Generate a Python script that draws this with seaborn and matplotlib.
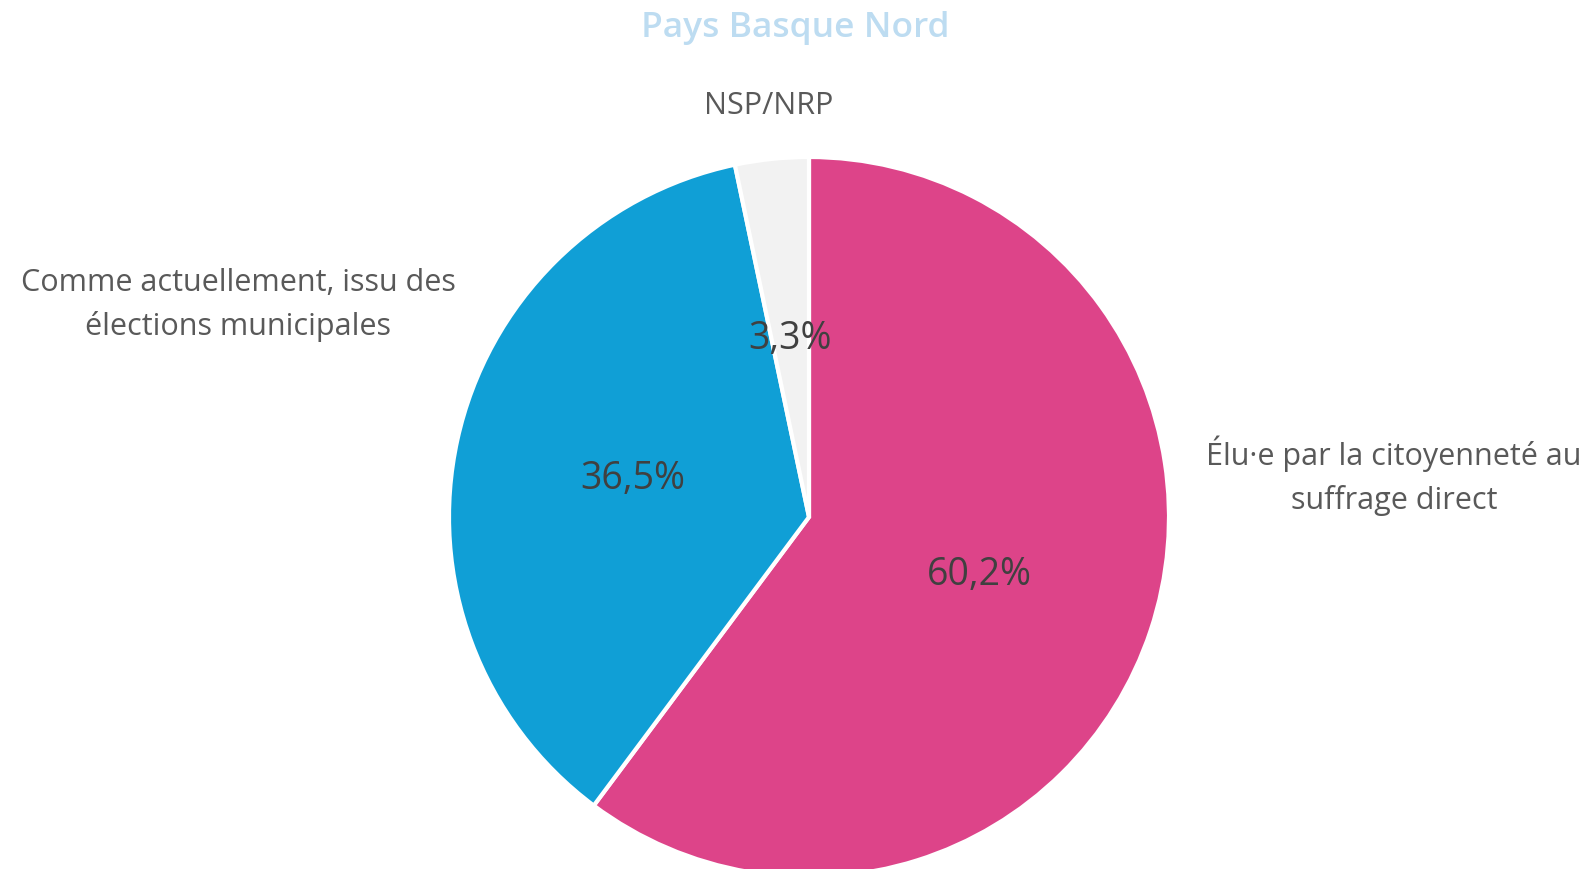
import matplotlib.pyplot as plt
import seaborn as sns

# Data
labels = ['Élu·e par la citoyenneté au\nsuffrage direct',
          'Comme actuellement, issu des\nélections municipales',
          'NSP/NRP']
values = [60.2, 36.5, 3.3]
colors = ['#DD4489', '#109FD6', '#F2F2F2']
title = 'Pays Basque Nord'

sns.set_theme(style='white')
plt.rcParams['font.family'] = ['Open Sans', 'DejaVu Sans']

W, H = 1596, 870
fig = plt.figure(figsize=(W / 100, H / 100), dpi=100)
ax = fig.add_axes([0, 0, 1, 1])

# Pie in pixel-like coordinates (y up)
cx, cy, r = 809, H - 518, 360
wedges, _, pcts = ax.pie(
    values, colors=colors, startangle=90, counterclock=False,
    center=(cx, cy), radius=r, frame=True,
    autopct=lambda p: f'{p:.1f}%'.replace('.', ','), pctdistance=0.5,
    wedgeprops=dict(edgecolor='white', linewidth=3),
    textprops=dict(color='#404040', fontsize=27))
ax.set_xlim(0, W)
ax.set_ylim(0, H)
ax.set_aspect('equal')
ax.axis('off')

# Category labels
label_pos = [(1394, H - 476), (238, H - 305), (769, H - 106)]
for txt, (x, y) in zip(labels, label_pos):
    ax.text(x, y, txt, ha='center', va='center', color='#595959',
            fontsize=22, linespacing=1.55)

ax.text(795, H - 28, title, ha='center', va='center', color='#BDDCF1',
        fontsize=25.5, fontweight='semibold')

fig.savefig('out.png', dpi=100)
